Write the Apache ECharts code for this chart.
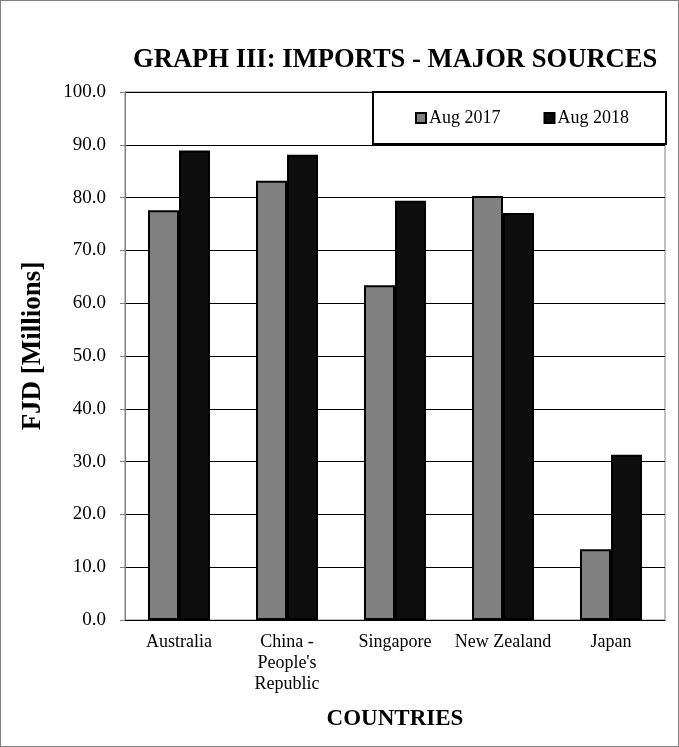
<!DOCTYPE html>
<html>
<head>
<meta charset="utf-8">
<script src="https://cdn.jsdelivr.net/npm/echarts@6/dist/echarts.min.js"></script>
<style>
  html, body { margin: 0; padding: 0; background: #fff; }
  #frame { width: 679px; height: 747px; box-sizing: border-box; border: 1px solid #808080; }
  #chart { width: 677px; height: 745px; }
</style>
</head>
<body>
<div id="frame"><div id="chart"></div></div>
<script>
// 数据
const countries = ['Australia', "China -\nPeople's\nRepublic", 'Singapore', 'New Zealand', 'Japan'];
const aug2017 = [77.6, 83.2, 63.4, 80.3, 13.4];
const aug2018 = [88.9, 88.1, 79.4, 77.1, 31.3];
const seriesNames = ['Aug 2017', 'Aug 2018'];

const serif = '"Liberation Serif", "Times New Roman", serif';

var myChart = echarts.init(document.getElementById('chart'));
myChart.setOption({
    animation: false,
    textStyle: { fontFamily: serif, color: '#000' },
    title: {
        text: 'GRAPH III: IMPORTS - MAJOR SOURCES',
        left: 132,
        top: 46,
        padding: 0,
        textStyle: { fontFamily: serif, fontSize: 26.6, fontWeight: 'bold', color: '#000' }
    },
    // 图例带边框
    legend: {
        data: seriesNames,
        left: 372,
        top: 91,
        padding: [17, 37, 17, 42],
        itemGap: 43,
        itemWidth: 10,
        itemHeight: 10,
        icon: 'rect',
        backgroundColor: '#fff',
        borderColor: '#000',
        borderWidth: 2,
        borderRadius: 0,
        textStyle: { fontFamily: serif, fontSize: 18, color: '#000', padding: [0, 0, 0, -2] }
    },
    grid: {
        left: 124,
        right: 13,
        top: 91,
        bottom: 126,
        show: true,
        borderColor: '#808080',
        borderWidth: 1
    },
    xAxis: {
        type: 'category',
        data: countries,
        name: 'COUNTRIES',
        nameLocation: 'middle',
        nameGap: 88,
        nameTextStyle: { fontFamily: serif, fontSize: 23, fontWeight: 'bold', color: '#000' },
        axisLine: { lineStyle: { color: '#000', width: 1 } },
        axisTick: { length: 5, lineStyle: { color: '#000' } },
        axisLabel: { fontFamily: serif, fontSize: 18, color: '#000', margin: 12, lineHeight: 21, interval: 0 }
    },
    yAxis: {
        type: 'value',
        min: 0,
        max: 100,
        interval: 10,
        name: 'FJD [Millions]',
        nameLocation: 'middle',
        nameGap: 78,
        nameTextStyle: { fontFamily: serif, fontSize: 27, fontWeight: 'bold', color: '#000', padding: [0, 0, 0, 20] },
        axisLine: { show: true, lineStyle: { color: '#808080', width: 1 } },
        axisTick: { show: true, length: 5, lineStyle: { color: '#808080' } },
        axisLabel: {
            fontFamily: serif, fontSize: 19, color: '#000', margin: 19,
            formatter: (v) => v.toFixed(1)
        },
        splitLine: { lineStyle: { color: '#000', width: 1 } }
    },
    series: [{
        name: seriesNames[0],
        type: 'bar',
        data: aug2017,
        barWidth: 31,
        barGap: '0%',
        itemStyle: { color: '#808080', borderColor: '#000', borderWidth: 2 }
    }, {
        name: seriesNames[1],
        type: 'bar',
        data: aug2018,
        barWidth: 31,
        itemStyle: { color: '#0d0d0d', borderColor: '#000', borderWidth: 2 }
    }]
});
</script>
</body>
</html>
